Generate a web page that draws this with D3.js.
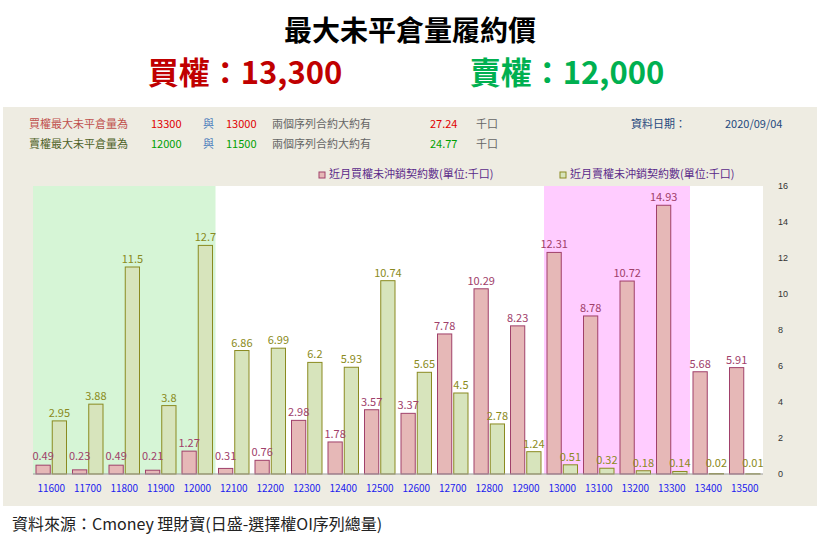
<!DOCTYPE html>
<html><head><meta charset="utf-8">
<script src="https://cdn.jsdelivr.net/npm/d3@7"></script>
<style>body{margin:0;background:#fff;font-family:"Noto Sans CJK TC","Noto Sans",sans-serif;}</style>
</head><body><svg id="c" width="820" height="547"></svg>
<script>
var strikes = ['11600','11700','11800','11900','12000','12100','12200','12300','12400','12500','12600','12700','12800','12900','13000','13100','13200','13300','13400','13500'];
var callOI = [0.49,0.23,0.49,0.21,1.27,0.31,0.76,2.98,1.78,3.57,3.37,7.78,10.29,8.23,12.31,8.78,10.72,14.93,5.68,5.91];
var putOI = [2.95,3.88,11.5,3.8,12.7,6.86,6.99,6.2,5.93,10.74,5.65,4.5,2.78,1.24,0.51,0.32,0.18,0.14,0.02,0.01];
var yTicks = [0,2,4,6,8,10,12,14,16];

var svg = d3.select('#c');
var F = '"Noto Sans CJK TC",sans-serif';

svg.append('text').attr('x', 410).attr('y', 41).attr('text-anchor', 'middle')
    .attr('font-size', 28).attr('font-weight', 'bold').attr('font-family', F).text('最大未平倉量履約價');
svg.append('text').attr('x', 245).attr('y', 84).attr('text-anchor', 'middle')
    .attr('font-size', 31).attr('font-weight', 'bold').attr('fill', '#c00000').attr('font-family', F).text('買權：13,300');
svg.append('text').attr('x', 567).attr('y', 84).attr('text-anchor', 'middle')
    .attr('font-size', 31).attr('font-weight', 'bold').attr('fill', '#00b050').attr('font-family', F).text('賣權：12,000');

svg.append('rect').attr('x', 3).attr('y', 107).attr('width', 814).attr('height', 399).attr('fill', '#eeece2');

// info lines
function info(y, col, a, b, c, d, v) {
    var g = svg.append('g').attr('font-size', 11).attr('font-family', F);
    g.append('text').attr('x', 29).attr('y', y).attr('fill', col).text(a);
    g.append('text').attr('x', 151).attr('y', y).attr('fill', d).text(b);
    g.append('text').attr('x', 203).attr('y', y).attr('fill', '#4f81bd').text('與');
    g.append('text').attr('x', 226).attr('y', y).attr('fill', d).text(c);
    g.append('text').attr('x', 272).attr('y', y).attr('fill', '#666').text('兩個序列合約大約有');
    g.append('text').attr('x', 430).attr('y', y).attr('fill', d).text(v);
    g.append('text').attr('x', 476).attr('y', y).attr('fill', '#666').text('千口');
}
info(128, '#c0504d', '買權最大未平倉量為', '13300', '13000', '#e00000', '27.24');
info(148, '#4f6228', '賣權最大未平倉量為', '12000', '11500', '#00a000', '24.77');
svg.append('text').attr('x', 631).attr('y', 128).attr('font-size', 11).attr('fill', '#1f497d').attr('font-family', F).text('資料日期：');
svg.append('text').attr('x', 725).attr('y', 128).attr('font-size', 11).attr('fill', '#1f497d').attr('font-family', F).text('2020/09/04');

// legend
svg.append('rect').attr('x', 319).attr('y', 172).attr('width', 6).attr('height', 6).attr('fill', '#e6b8b7').attr('stroke', '#a0406a');
svg.append('text').attr('x', 329).attr('y', 178).attr('font-size', 11).attr('fill', '#5b2a8a').attr('font-family', F).text('近月買權未沖銷契約數(單位:千口)');
svg.append('rect').attr('x', 560).attr('y', 172).attr('width', 6).attr('height', 6).attr('fill', '#d7e4bc').attr('stroke', '#8a8a20');
svg.append('text').attr('x', 570).attr('y', 178).attr('font-size', 11).attr('fill', '#5b2a8a').attr('font-family', F).text('近月賣權未沖銷契約數(單位:千口)');

var x = d3.scaleBand().domain(strikes).range([33, 763]);
var y = d3.scaleLinear().domain([0, 16]).range([474, 186]);

svg.append('rect').attr('x', 33).attr('y', 186).attr('width', 730).attr('height', 288).attr('fill', '#fff');
svg.append('rect').attr('x', x('11600')).attr('y', 186).attr('width', x('12000') + x.bandwidth() - x('11600')).attr('height', 288).attr('fill', '#d6f5d6');
svg.append('rect').attr('x', x('13000')).attr('y', 186).attr('width', x('13300') + x.bandwidth() - x('13000')).attr('height', 288).attr('fill', '#ffccff');

var bw = x.bandwidth();
var g = svg.append('g');
g.selectAll('.cb').data(callOI).join('rect')
    .attr('x', function(d, i) { return x(strikes[i]) + 3; })
    .attr('y', function(d) { return y(d); })
    .attr('width', bw / 2 - 4).attr('height', function(d) { return y(0) - y(d); })
    .attr('fill', '#e6b8b7').attr('stroke', '#a0406a');
g.selectAll('.pb').data(putOI).join('rect')
    .attr('x', function(d, i) { return x(strikes[i]) + bw / 2 + 1; })
    .attr('y', function(d) { return y(d); })
    .attr('width', bw / 2 - 4).attr('height', function(d) { return y(0) - y(d); })
    .attr('fill', '#d7e4bc').attr('stroke', '#8a8a20');
g.selectAll('.cl').data(callOI).join('text')
    .attr('x', function(d, i) { return x(strikes[i]) + bw / 4 + 1; })
    .attr('y', function(d) { return Math.min(y(d) - 4, 460); })
    .attr('text-anchor', 'middle').attr('font-size', 11).attr('fill', '#a0406a').attr('font-family', F)
    .text(function(d) { return d; });
g.selectAll('.pl').data(putOI).join('text')
    .attr('x', function(d, i) { return x(strikes[i]) + bw * 3 / 4 - 1; })
    .attr('y', function(d) { return Math.min(y(d) - 4, 467); })
    .attr('text-anchor', 'middle').attr('font-size', 11).attr('fill', '#8a8a20').attr('font-family', F)
    .text(function(d) { return d; });

svg.append('line').attr('x1', 33).attr('x2', 763).attr('y1', 474).attr('y2', 474).attr('stroke', '#999');

var ya = svg.append('g').attr('transform', 'translate(770,0)')
    .call(d3.axisRight(y).tickValues(yTicks).tickSize(0).tickPadding(8));
ya.select('.domain').remove();
ya.selectAll('text').attr('font-size', 9).attr('fill', '#333');

var xa = svg.append('g').attr('transform', 'translate(0,482)')
    .call(d3.axisBottom(x).tickSize(0));
xa.select('.domain').remove();
xa.selectAll('text').attr('font-size', 10).attr('fill', '#2222ee').attr('font-family', F);

svg.append('text').attr('x', 12).attr('y', 530).attr('font-size', 16).attr('fill', '#222').attr('font-family', F)
    .text('資料來源：Cmoney 理財寶(日盛-選擇權OI序列總量)');
</script></body></html>
